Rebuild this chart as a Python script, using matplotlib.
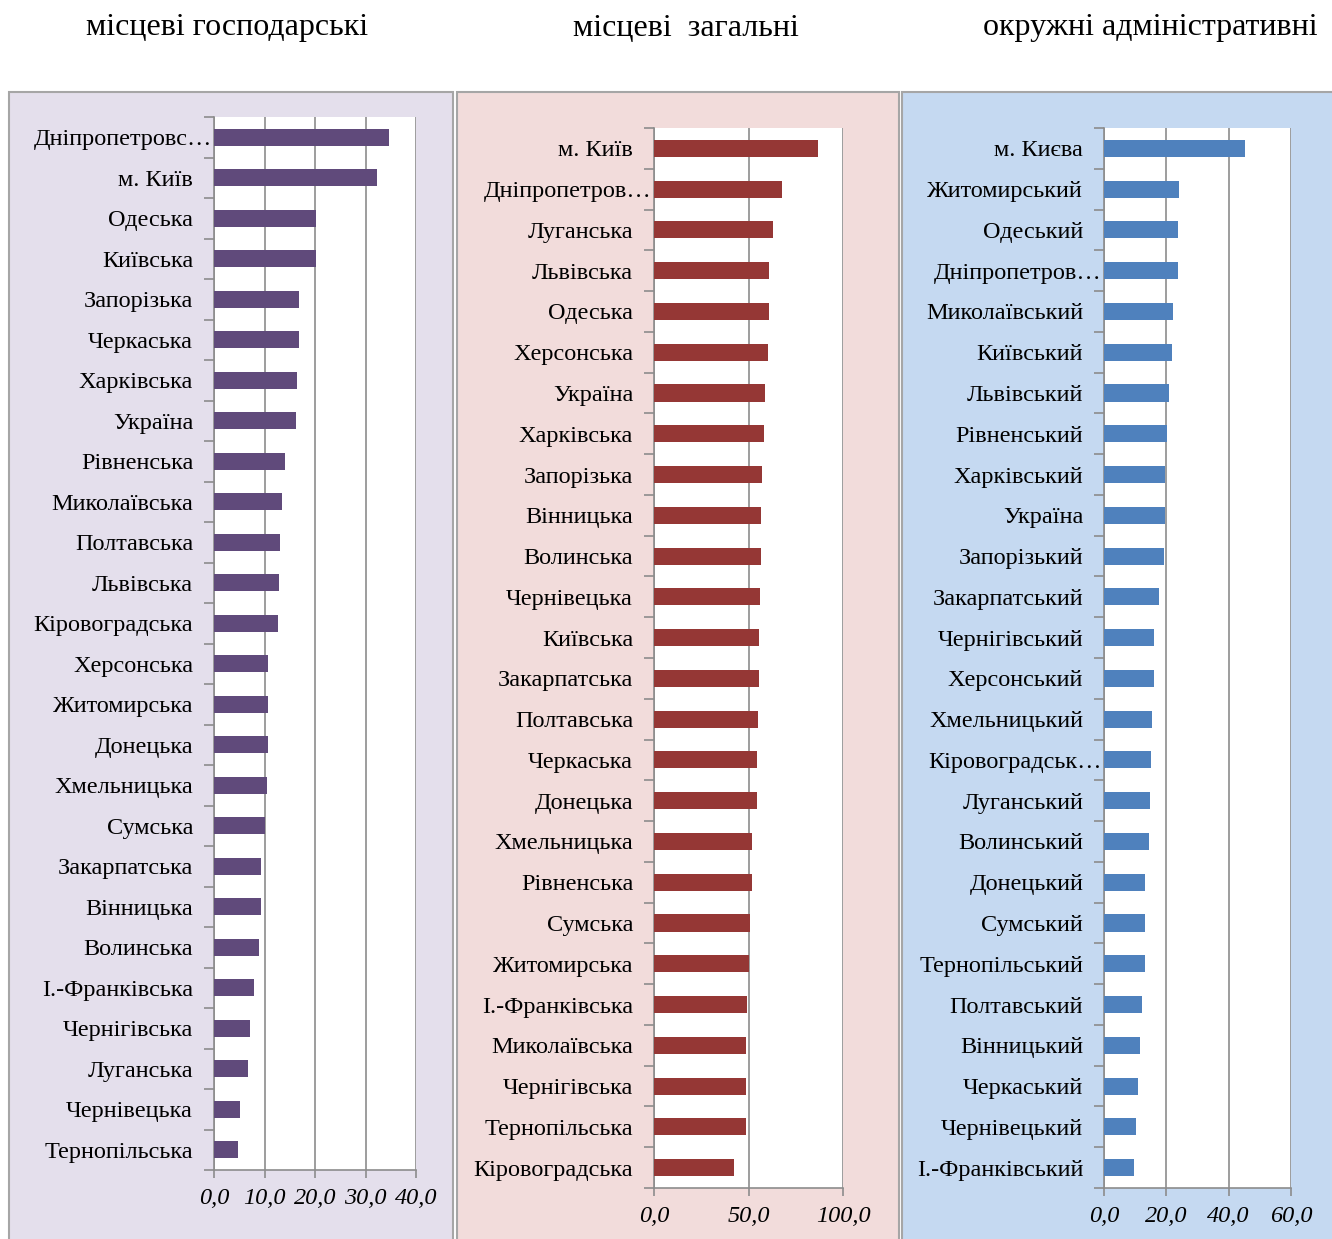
import matplotlib
matplotlib.use("Agg")
import matplotlib.pyplot as plt
from matplotlib.patches import Rectangle
from matplotlib.ticker import FixedLocator, FuncFormatter

plt.rcParams['font.family'] = ['Liberation Serif', 'DejaVu Serif']

# --- data -------------------------------------------------------------
titles = ["місцеві господарські", "місцеві  загальні", "окружні адміністративні"]

local_econ_names = [
    "Дніпропетровс…", "м. Київ", "Одеська", "Київська", "Запорізька", "Черкаська",
    "Харківська", "Україна", "Рівненська", "Миколаївська", "Полтавська", "Львівська",
    "Кіровоградська", "Херсонська", "Житомирська", "Донецька", "Хмельницька", "Сумська",
    "Закарпатська", "Вінницька", "Волинська", "І.-Франківська", "Чернігівська",
    "Луганська", "Чернівецька", "Тернопільська",
]
local_econ_values = [
    34.6, 32.3, 20.2, 20.1, 16.9, 16.8, 16.4, 16.2, 14.0, 13.5, 13.0, 12.8, 12.6,
    10.7, 10.7, 10.7, 10.5, 10.1, 9.3, 9.3, 9.0, 7.9, 7.2, 6.8, 5.1, 4.8,
]

local_gen_names = [
    "м. Київ", "Дніпропетров…", "Луганська", "Львівська", "Одеська", "Херсонська",
    "Україна", "Харківська", "Запорізька", "Вінницька", "Волинська", "Чернівецька",
    "Київська", "Закарпатська", "Полтавська", "Черкаська", "Донецька", "Хмельницька",
    "Рівненська", "Сумська", "Житомирська", "І.-Франківська", "Миколаївська",
    "Чернігівська", "Тернопільська", "Кіровоградська",
]
local_gen_values = [
    86.6, 67.5, 62.9, 61.0, 60.8, 60.1, 58.5, 58.3, 57.2, 56.7, 56.4, 56.0, 55.5,
    55.3, 54.9, 54.6, 54.4, 52.1, 51.8, 50.9, 50.5, 49.3, 48.8, 48.6, 48.6, 42.2,
]

district_names = [
    "м. Києва", "Житомирський", "Одеський", "Дніпропетров…", "Миколаївський",
    "Київський", "Львівський", "Рівненський", "Харківський", "Україна", "Запорізький",
    "Закарпатський", "Чернігівський", "Херсонський", "Хмельницький", "Кіровоградськ…",
    "Луганський", "Волинський", "Донецький", "Сумський", "Тернопільський",
    "Полтавський", "Вінницький", "Черкаський", "Чернівецький", "І.-Франківський",
]
district_values = [
    45.2, 24.0, 23.9, 23.8, 22.0, 21.9, 21.0, 20.3, 19.7, 19.5, 19.1, 17.7, 16.0,
    16.0, 15.3, 15.2, 14.6, 14.5, 13.3, 13.2, 13.1, 12.1, 11.4, 11.0, 10.4, 9.6,
]

x_ticks = [[0, 10, 20, 30, 40], [0, 50, 100], [0, 20, 40, 60]]

# --- layout -----------------------------------------------------------
W, H = 1332, 1239
fig = plt.figure(figsize=(W / 100, H / 100), dpi=100)

panel_bg = ["#E4DFEC", "#F2DCDB", "#C5D9F1"]
bar_colors = ["#604A7B", "#953735", "#4F81BD"]
panel_box = [(9, 453), (457, 899), (902, 1340)]
axes_px = [(214, 416, 117, 1170), (654, 843, 128, 1188), (1104, 1291, 128, 1188)]
title_x = [227, 686, 1150]

names_all = [local_econ_names, local_gen_names, district_names]
values_all = [local_econ_values, local_gen_values, district_values]

grid_color = "#8C8C8C"

for i in range(3):
    x0, x1 = panel_box[i]
    fig.patches.append(Rectangle((x0 / W, -0.05), (x1 - x0) / W, 1.05 - 92 / H,
                                 transform=fig.transFigure, facecolor=panel_bg[i],
                                 edgecolor="#A6A6A6", linewidth=1.5, zorder=0))
    fig.text(title_x[i] / W, 1 - 28 / H, titles[i], ha="center", va="center", fontsize=23)

    left, right, top, bottom = axes_px[i]
    ax = fig.add_axes([left / W, 1 - bottom / H, (right - left) / W, (bottom - top) / H])
    ax.set_zorder(5)
    ax.set_facecolor("white")

    names = names_all[i]
    vals = values_all[i]
    pos = list(range(len(names)))
    ax.barh(pos, vals, height=0.42, color=bar_colors[i], zorder=3)

    ax.set_ylim(len(names) - 0.5, -0.5)
    ax.set_xlim(0, x_ticks[i][-1])
    ax.set_yticks(pos)
    # truncated names (ending with …) run up to the axis, like Excel does
    ax.set_yticklabels(["" if n.endswith("…") else n for n in names], fontsize=17.5)
    for p, n in zip(pos, names):
        if n.endswith("…"):
            ax.annotate(n, xy=(0, p), xycoords=("axes fraction", "data"),
                        xytext=(-1.5, 0), textcoords="offset points",
                        ha="right", va="center_baseline", fontsize=17.5,
                        annotation_clip=False)
    ax.yaxis.set_minor_locator(FixedLocator([p - 0.5 for p in range(len(names) + 1)]))
    ax.tick_params(axis="y", which="major", length=0, pad=15)
    ax.tick_params(axis="y", which="minor", length=7, width=1.2, color=grid_color)

    ax.set_xticks(x_ticks[i])
    ax.xaxis.set_major_formatter(FuncFormatter(lambda v, p: f"{v:.1f}".replace(".", ",")))
    ax.tick_params(axis="x", length=6, width=1.2, color=grid_color, pad=7)
    for lbl in ax.get_xticklabels():
        lbl.set_fontstyle("italic")
        lbl.set_fontsize(17.5)

    ax.grid(axis="x", color=grid_color, linewidth=1.2, zorder=1)
    ax.set_axisbelow(True)
    for side in ["top", "right"]:
        ax.spines[side].set_visible(False)
    for side in ["left", "bottom"]:
        ax.spines[side].set_color(grid_color)
        ax.spines[side].set_linewidth(1.2)

fig.savefig("out.png", dpi=100)
